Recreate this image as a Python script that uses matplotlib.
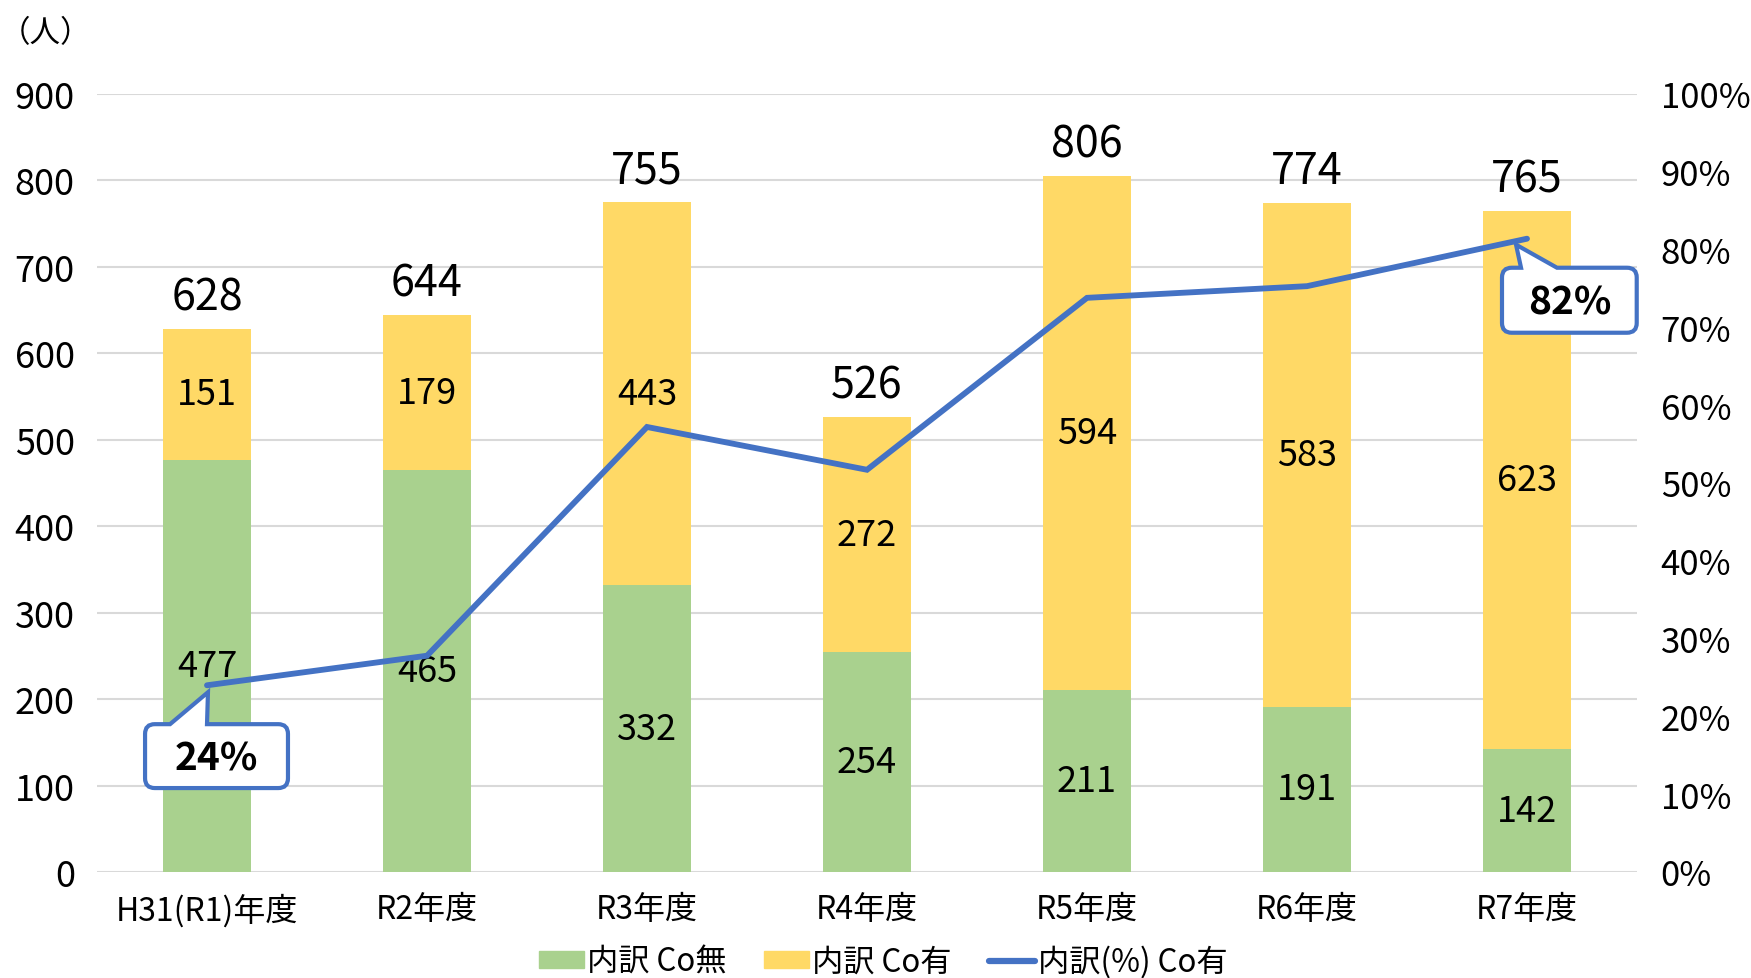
import matplotlib
matplotlib.use('Agg')
import matplotlib.pyplot as plt
import matplotlib.transforms as mtransforms
import numpy as np
from matplotlib.patches import Patch, PathPatch
from matplotlib.path import Path
from matplotlib.lines import Line2D
from matplotlib.ticker import MultipleLocator, FuncFormatter

plt.rcParams['font.family'] = ['Noto Sans CJK JP', 'DejaVu Sans']

years = ['H31(R1)年度', 'R2年度', 'R3年度', 'R4年度', 'R5年度', 'R6年度', 'R7年度']
co_nashi = [477, 465, 332, 254, 211, 191, 142]
co_ari = [151, 179, 443, 272, 594, 583, 623]
totals = [628, 644, 755, 526, 806, 774, 765]
pct_ari = [24.0, 27.8, 57.2, 51.7, 73.8, 75.3, 81.4]

GREEN = '#A9D18E'
YELLOW = '#FFD966'
BLUE = '#4472C4'
GRID = '#D9D9D9'

W, H = 1751, 979
fig = plt.figure(figsize=(W / 100, H / 100), dpi=100)
ax = fig.add_axes([97 / W, 1 - 873 / H, (1637 - 97) / W, (873 - 95) / H])

x = np.arange(len(years))
b1 = ax.bar(x, co_nashi, width=0.4, color=GREEN, zorder=2)
b2 = ax.bar(x, co_ari, bottom=co_nashi, width=0.4, color=YELLOW, zorder=2)
ax.bar_label(b1, label_type='center', fontsize=26, zorder=3)
ax.bar_label(b2, label_type='center', fontsize=26, zorder=3)

tops = np.array(co_nashi) + np.array(co_ari)
for xi, top, t in zip(x, tops, totals):
    ax.annotate(str(t), (xi, top), xytext=(0, 14), textcoords='offset points',
                ha='center', va='baseline', fontsize=31)

ax.set_xlim(-0.5, len(years) - 0.5)
ax.set_ylim(0, 900)
ax.yaxis.set_major_locator(MultipleLocator(100))
ax.grid(axis='y', color=GRID, lw=1.5, zorder=0)
ax.set_axisbelow(True)
for s in ax.spines.values():
    s.set_visible(False)
ax.set_xticks(x)
ax.set_xticklabels(years, fontsize=23)
ax.tick_params(axis='x', length=0, pad=15)
ax.tick_params(axis='y', length=0, pad=16, labelsize=26)

ax2 = ax.twinx()
ax2.plot(x, pct_ari, color=BLUE, lw=4.2, solid_capstyle='round', solid_joinstyle='miter')
ax2.set_ylim(0, 100)
ax2.yaxis.set_major_locator(MultipleLocator(10))
ax2.yaxis.set_major_formatter(FuncFormatter(lambda v, p: f'{v:.0f}%'))
ax2.tick_params(axis='y', length=0, pad=17, labelsize=25)
for s in ax2.spines.values():
    s.set_visible(False)


def callout(axis, xd, yd, txt, box, notch, tip, r=7):
    # box/notch/tip in points relative to the data point
    x0, x1, y0, y1 = box
    na, nb = notch
    verts = [(x0 + r, y1), (na, y1), tip, (nb, y1), (x1 - r, y1),
             (x1, y1), (x1, y1 - r), (x1, y0 + r),
             (x1, y0), (x1 - r, y0), (x0 + r, y0),
             (x0, y0), (x0, y0 + r), (x0, y1 - r),
             (x0, y1), (x0 + r, y1), (x0 + r, y1)]
    codes = [Path.MOVETO, Path.LINETO, Path.LINETO, Path.LINETO, Path.LINETO,
             Path.CURVE3, Path.CURVE3, Path.LINETO,
             Path.CURVE3, Path.CURVE3, Path.LINETO,
             Path.CURVE3, Path.CURVE3, Path.LINETO,
             Path.CURVE3, Path.CURVE3, Path.CLOSEPOLY]
    trans = (mtransforms.Affine2D().scale(fig.dpi / 72)
             + mtransforms.ScaledTranslation(xd, yd, axis.transData))
    axis.add_patch(PathPatch(Path(verts, codes), transform=trans, fc='white',
                             ec=BLUE, lw=3, joinstyle='miter', zorder=5, clip_on=False))
    axis.annotate(txt, (xd, yd), xytext=((x0 + x1) / 2, (y0 + y1) / 2 - 1),
                  textcoords='offset points', ha='center', va='center',
                  fontsize=28, fontweight='bold', zorder=6)


callout(ax2, x[0], pct_ari[0], '24%', (-44.6, 58.3, -74, -28), (-26.6, 0), (0.7, -5))
callout(ax2, x[6], pct_ari[6], '82%', (-18, 79, -67.7, -20.9), (-4.3, 21.6), (-7.9, -4.3))

fig.text(0.0, 1 - 34 / H, '（人）', ha='left', va='center', fontsize=22)

handles = [Patch(color=GREEN), Patch(color=YELLOW),
           Line2D([], [], color=BLUE, lw=4.5, solid_capstyle='round')]
labels = ['内訳 Co無', '内訳 Co有', '内訳(%) Co有']
fig.legend(handles, labels, loc='center', bbox_to_anchor=(883 / W, 1 - 962 / H), ncol=3,
           frameon=False, fontsize=22.5, handlelength=1.45, handleheight=0.45,
           handletextpad=0.1, columnspacing=1.2)

fig.savefig('out.png', dpi=100)
